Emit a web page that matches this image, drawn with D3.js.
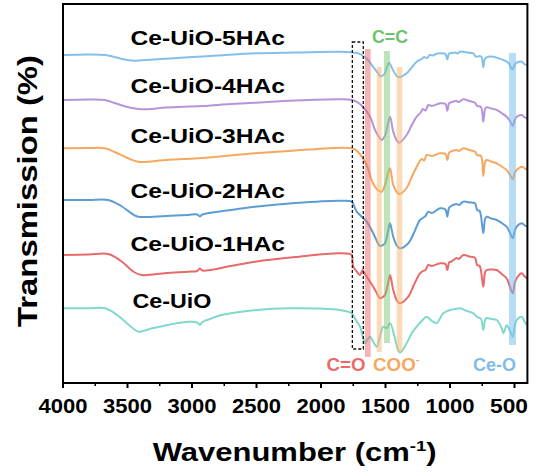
<!DOCTYPE html>
<html><head><meta charset="utf-8">
<script src="https://cdn.jsdelivr.net/npm/d3@7"></script>
<style>html,body{margin:0;padding:0;background:#fff;}svg{display:block;font-family:"Liberation Sans",Arial,sans-serif;}</style>
</head><body>
<script>
// ---- data (wavenumber cm-1, transmission a.u. with stacking offset) ----
const seriesNames = ["Ce-UiO-5HAc","Ce-UiO-4HAc","Ce-UiO-3HAc","Ce-UiO-2HAc","Ce-UiO-1HAc","Ce-UiO"];
const seriesColors = ["#86c0ea","#b794d9","#f7a75e","#5e9dd3","#e86a6a","#80d9cb"];
const s5HAc = [[4000,328],[3800,328.5],[3674,328],[3600,326],[3500,323],[3442,322.3],[3300,323.5],[3029,325.7],[2800,327.5],[2512,329.7],[2200,330.5],[1853,331.3],[1760,330.7],[1720,330],[1684,328],[1636,323],[1597,316.3],[1560,310],[1543,307],[1520,307.5],[1504,310],[1473,320.3],[1442,313],[1410,306.5],[1395,305.7],[1336,309.7],[1300,315],[1258,321.3],[1220,324],[1200,326],[1180,325],[1155,328],[1130,327.5],[1110,329],[1077,329.7],[1035,329],[1021,323.7],[1008,329.5],[1000,329.7],[960,330.5],[940,329.5],[922,331.3],[870,330.5],[819,329.7],[805,327],[793,326.3],[770,327],[755,326],[742,315.7],[730,324],[716,325.7],[664,326.3],[620,324.5],[587,323],[548,320.3],[530,316],[514,313.7],[500,318],[483,320.3],[444,321.3],[425,319],[405,318]];
const s4HAc = [[4000,283],[3800,283.5],[3674,283],[3600,280],[3500,276],[3390,273.7],[3200,275.5],[2925,277],[2700,279],[2512,280.3],[2200,282.5],[1853,283.7],[1760,283],[1720,281],[1672,275.7],[1620,266.3],[1581,253],[1545,245],[1529,243],[1505,247],[1491,253],[1465,266.3],[1440,251.3],[1410,242],[1393,240.3],[1336,248],[1300,257],[1258,266.3],[1230,270],[1210,274],[1190,272.5],[1168,278],[1140,277],[1077,279.7],[1035,279],[1021,272.3],[1008,279.5],[1000,280.3],[950,282],[930,281],[897,283.7],[850,282],[806,280.3],[790,277],[760,276],[742,261.3],[728,274],[716,275.7],[680,274.5],[638,273],[600,270],[561,266.3],[535,262],[514,257],[498,263],[483,266.3],[444,268],[425,266],[405,264.7]];
const s3HAc = [[4000,234.7],[3800,235],[3674,234.7],[3600,231],[3500,225],[3416,221.3],[3200,223],[2953,224.7],[2700,227.5],[2512,229.7],[2200,232.5],[1853,235.3],[1760,234.7],[1720,232],[1684,226.3],[1646,218],[1597,199.7],[1560,193],[1529,191.3],[1504,198],[1480,210],[1465,214.7],[1440,198],[1410,190.5],[1393,189],[1336,195],[1300,205],[1258,216.3],[1220,224],[1200,222.5],[1181,228],[1140,227],[1077,229.7],[1035,229],[1021,223],[1008,230],[1000,231],[950,233],[930,232],[897,234.7],[850,233],[806,231.3],[790,228],[760,227],[742,207],[728,221],[716,223],[680,221.5],[638,219.7],[600,216.5],[561,213],[535,208],[514,203.7],[498,210],[483,213],[444,216.3],[425,215],[405,213]];
const s2HAc = [[4000,183],[3800,183],[3649,183],[3550,177],[3450,168],[3416,166.3],[3200,167],[3029,168],[2960,168.5],[2938,166.5],[2920,168.5],[2700,173],[2512,176.3],[2200,180],[1853,182.3],[1762,181.3],[1740,176],[1723,171.3],[1684,166.3],[1646,161.3],[1595,149.7],[1560,140],[1543,137],[1520,138],[1504,139.7],[1480,152],[1465,159.7],[1440,146.3],[1410,137],[1388,134.7],[1323,139.7],[1280,150],[1233,163],[1210,165],[1190,167],[1168,171.3],[1140,170],[1077,174.7],[1035,173.5],[1021,166.3],[1008,175],[1000,176.3],[950,179],[930,178],[897,181.3],[850,180.5],[806,179.7],[790,173],[770,172],[742,149.7],[728,164],[716,166.3],[680,164.5],[638,163],[600,160],[561,156.3],[535,150],[514,144.7],[498,152],[483,156.3],[444,159.7],[425,158],[405,156.3]];
const s1HAc = [[4000,128],[3800,128.5],[3649,129],[3550,122],[3450,111],[3390,108],[3200,110],[3029,111.3],[2960,112],[2940,114.5],[2920,112.5],[2700,117],[2512,121.3],[2200,126],[1853,129.7],[1762,128],[1756,122],[1750,116.3],[1720,111],[1698,108],[1677,113],[1665,110],[1646,106.3],[1595,96.3],[1560,88],[1543,84.7],[1520,86],[1504,88],[1480,100],[1465,108],[1440,93],[1410,82],[1388,79.7],[1323,86.3],[1280,98],[1233,109.7],[1210,112],[1190,113],[1168,118],[1140,117],[1077,119.7],[1035,119],[1021,113],[1005,121],[990,121.3],[950,125],[930,124],[897,128],[850,126.5],[806,125],[790,118],[770,117],[742,96.3],[728,111],[716,113],[680,113.5],[638,113],[600,109],[561,104.7],[535,96],[514,89.7],[498,100],[483,104.7],[444,109.7],[425,107],[405,104.7]];
const sCeUiO = [[4000,74.7],[3800,74.7],[3674,74.7],[3580,68],[3480,57],[3416,51.3],[3300,55],[3029,61.3],[2960,60.5],[2938,58],[2920,61],[2850,64.5],[2770,68],[2500,73],[2253,74.7],[1853,73],[1762,69.7],[1730,63],[1698,56.3],[1675,46],[1659,39.7],[1640,43.5],[1620,46.3],[1590,40],[1568,36.3],[1540,48],[1517,56.3],[1491,54.7],[1465,59.7],[1430,46.3],[1405,34],[1388,30.3],[1336,39.7],[1300,49],[1258,56.3],[1220,62],[1181,66.3],[1140,62],[1103,59.7],[1080,64],[1052,69.7],[1000,73],[960,74],[922,74.7],[870,72],[819,69.7],[793,66.3],[760,64],[742,53],[728,63],[716,65],[680,64],[638,63],[600,55],[587,49.7],[570,55],[561,58],[535,52],[514,46.3],[498,57],[483,63],[444,66.3],[425,62],[405,58]];
const seriesData = [s5HAc, s4HAc, s3HAc, s2HAc, s1HAc, sCeUiO];
const xTicks = [4000,3500,3000,2500,2000,1500,1000,500];
const xMinorTicks = [3750,3250,2750,2250,1750,1250,750];
const bandNames = ["C=O","COO-a","C=C","COO-b","Ce-O"];
const bandRanges = [[1659,1615],[1568,1529],[1512,1465],[1413,1370],[543,488]];
const bandColors = ["#eb6868","#f5b56f","#80c878","#f5b56f","#74b9ee"];
const dashedBoxRange = [1757,1672];

// ---- layout ----
const W = 536, H = 476;
const L = 63, R = 527.4, T = 4, B = 383;
const svg = d3.select("body").append("svg").attr("width", W).attr("height", H);
const x = d3.scaleLinear().domain([4000, 400]).range([L, R]);
const y = d3.scaleLinear().domain([0, 379]).range([B, T]);
const FONT = '"Liberation Sans",Arial,sans-serif';

function fitText(parent, tx, ty, targetW, anchor, size, fill, build, rotate) {
  const g = parent.append("g");
  const t = g.append("text").attr("font-size", size).attr("font-weight", "bold")
    .attr("font-family", FONT).attr("fill", fill).attr("text-anchor", anchor);
  build(t);
  const w = t.node().getBBox().width;
  const s = targetW / w;
  g.attr("transform", `translate(${tx},${ty})` + (rotate ? ` rotate(${rotate})` : "") + ` scale(${s},1)`);
  return g;
}

// spectra
const line = d3.line().x(d => x(d[0])).y(d => y(d[1])).curve(d3.curveCatmullRom.alpha(0.5));
svg.append("g").selectAll("path").data(seriesData).join("path")
  .attr("d", line).attr("fill", "none")
  .attr("stroke", (d, i) => seriesColors[i]).attr("stroke-width", 2)
  .attr("stroke-linejoin", "round");

// bands
const bandY = [[49, 357], [67, 352], [51, 343], [67, 352], [53, 345]];
svg.append("g").selectAll("rect").data(bandRanges).join("rect")
  .attr("x", d => x(d[0])).attr("width", d => x(d[1]) - x(d[0]))
  .attr("y", (d, i) => bandY[i][0]).attr("height", (d, i) => bandY[i][1] - bandY[i][0])
  .attr("fill", (d, i) => bandColors[i]).attr("opacity", 0.5);

// dashed box
svg.append("rect").attr("x", x(dashedBoxRange[0])).attr("width", x(dashedBoxRange[1]) - x(dashedBoxRange[0]))
  .attr("y", 42).attr("height", 307).attr("fill", "none")
  .attr("stroke", "#111").attr("stroke-width", 1.3).attr("stroke-dasharray", "3,2");

// frame
svg.append("rect").attr("x", L).attr("y", T).attr("width", R - L).attr("height", B - T)
  .attr("fill", "none").attr("stroke", "#000").attr("stroke-width", 2);

// ticks
svg.append("g").selectAll("line").data(xTicks).join("line")
  .attr("x1", d => x(d)).attr("x2", d => x(d)).attr("y1", B).attr("y2", B + 5)
  .attr("stroke", "#000").attr("stroke-width", 2);
svg.append("g").selectAll("line").data(xMinorTicks).join("line")
  .attr("x1", d => x(d)).attr("x2", d => x(d)).attr("y1", B).attr("y2", B + 3)
  .attr("stroke", "#000").attr("stroke-width", 1.5);
xTicks.forEach(v => {
  const s = String(v);
  if (v === 500) {
    fitText(svg, 528, 413, 38, "end", 21, "#000", t => t.text(s));
  } else {
    fitText(svg, x(v), 413, 49, "middle", 21, "#000", t => t.text(s));
  }
});

// axis titles
fitText(svg, 294.7, 460.5, 284, "middle", 25, "#000", t => {
  t.append("tspan").text("Wavenumber (cm");
  t.append("tspan").attr("font-size", 15).attr("dy", -10).text("-1");
  t.append("tspan").attr("dy", 10).text(")");
});
fitText(svg, 37, 191, 272, "middle", 28, "#000", t => t.text("Transmission (%)"), -90);

// series labels
const labelBase = [45, 93, 143, 198, 251, 308];
const labelW = [155, 155, 155, 155, 155, 79];
seriesNames.forEach((n, i) => {
  fitText(svg, i === 5 ? 132.5 : 130.5, labelBase[i], labelW[i], "start", 21, "#000", t => t.text(n));
});

// band annotations
fitText(svg, 390, 43, 36, "middle", 18, "#6cc36a", t => t.text("C=C"));
fitText(svg, 365.5, 371, 39, "end", 18, "#ea6a6a", t => t.text("C=O"));
fitText(svg, 373, 371, 47, "start", 18, "#f7a75e", t => {
  t.append("tspan").text("COO");
  t.append("tspan").attr("font-size", 11).attr("dy", -8).text("-");
});
fitText(svg, 473, 371, 43, "start", 18, "#7fbce9", t => t.text("Ce-O"));
</script>
</body></html>
